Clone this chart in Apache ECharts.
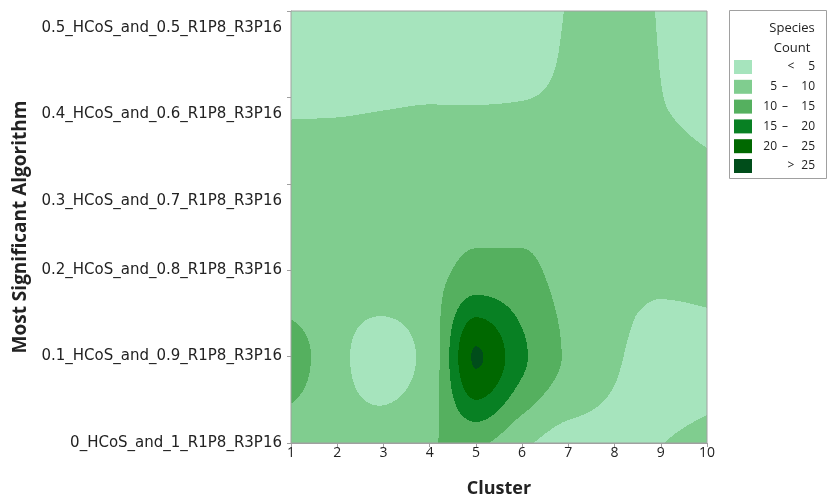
<!DOCTYPE html>
<html><head><meta charset="utf-8">
<script src="https://cdn.jsdelivr.net/npm/echarts@6/dist/echarts.min.js"></script>
<style>html,body{margin:0;padding:0;background:#fff}#c{width:829px;height:499px}</style>
</head><body><div id="c"></div>
<script>
// X: cluster, Y: most significant algorithm (HCoS weight)
const clusters = [1, 2, 3, 4, 5, 6, 7, 8, 9, 10];
const algoValues = [0, 0.1, 0.2, 0.3, 0.4, 0.5];
const algoLabels = [
  '0_HCoS_and_1_R1P8_R3P16',
  '0.1_HCoS_and_0.9_R1P8_R3P16',
  '0.2_HCoS_and_0.8_R1P8_R3P16',
  '0.3_HCoS_and_0.7_R1P8_R3P16',
  '0.4_HCoS_and_0.6_R1P8_R3P16',
  '0.5_HCoS_and_0.5_R1P8_R3P16'
];
// Species count per algorithm row (clusters 1..10), estimated from the contours
const countAlgo00 = [6, 7, 8, 9.8, 10.7, 6, 3, 3.5, 4.9, 6];
const countAlgo01 = [13, 6.5, 2.5, 7, 25.5, 16, 9.3, 5.6, 3, 3.5];
const countAlgo02 = [5.5, 7, 8, 8.6, 11.3, 11, 8.3, 7, 6, 6];
const countAlgo03 = [7.5, 7.5, 7.5, 7.5, 7.5, 7.5, 7.5, 7.5, 7, 6];
const countAlgo04 = [4.2, 4.3, 4.6, 4.8, 4.8, 4.9, 5.6, 7, 5.1, 3.2];
const countAlgo05 = [3, 3, 3, 3, 3, 3, 5.2, 7, 4.7, 3];

const contourLevels = [5, 10, 15, 20, 25];
const bandColors = ['#a6e4bd', '#80cd8f', '#55b05f', '#088023', '#006800', '#004d1a'];
const bandText = [['', '<', '5'], ['5', '–', '10'], ['10', '–', '15'], ['15', '–', '20'], ['20', '–', '25'], ['', '>', '25']];

const grid = [countAlgo00, countAlgo01, countAlgo02, countAlgo03, countAlgo04, countAlgo05];
const NX = clusters.length, NY = algoValues.length;

// monotone (Fritsch-Carlson style) cubic tangents for a uniformly spaced series
function tangents(p) {
  const n = p.length, d = [], m = [];
  for (let k = 0; k < n - 1; k++) d.push(p[k + 1] - p[k]);
  m[0] = d[0]; m[n - 1] = d[n - 2];
  for (let k = 1; k < n - 1; k++) {
    const a = d[k - 1], b = d[k];
    m[k] = (a * b <= 0) ? 0 : 2 * a * b / (a + b);
  }
  return m;
}
function hermite(p1, p2, m1, m2, t) {
  const t2 = t * t, t3 = t2 * t;
  return (2 * t3 - 3 * t2 + 1) * p1 + (t3 - 2 * t2 + t) * m1 + (-2 * t3 + 3 * t2) * p2 + (t3 - t2) * m2;
}
const rowTan = grid.map(tangents);

function surf(i, j, u, v) {
  const col = [];
  for (let r = 0; r < NY; r++) col.push(hermite(grid[r][i], grid[r][i + 1], rowTan[r][i], rowTan[r][i + 1], u));
  const mt = tangents(col);
  return hermite(col[j], col[j + 1], mt[j], mt[j + 1], v);
}
function bandOf(z) {
  let b = 0;
  for (let k = 0; k < contourLevels.length; k++) if (z >= contourLevels[k]) b = k + 1;
  return b;
}

const cells = [];
for (let j = 0; j < NY - 1; j++) for (let i = 0; i < NX - 1; i++) {
  cells.push([clusters[i], algoValues[j], i, j]);
}

function renderItem(params, api) {
  const i = api.value(2), j = api.value(3);
  const p0 = api.coord([clusters[i], algoValues[j]]);
  const p1 = api.coord([clusters[i + 1], algoValues[j + 1]]);
  const x0 = Math.round(p0[0]), x1 = Math.round(p1[0]);
  const yb = Math.round(p0[1]), yt = Math.round(p1[1]);
  const children = [];
  for (let py = yt; py < yb; py++) {
    const v = (yb - (py + 0.5)) / (yb - yt);
    let start = x0, band = -1;
    for (let px = x0; px < x1; px++) {
      const u = (px + 0.5 - x0) / (x1 - x0);
      const b = bandOf(surf(i, j, u, v));
      if (b !== band) {
        if (band >= 0) children.push({ type: 'rect', shape: { x: start, y: py, width: px - start, height: 1 }, style: { fill: bandColors[band] } });
        start = px; band = b;
      }
    }
    children.push({ type: 'rect', shape: { x: start, y: py, width: x1 - start, height: 1 }, style: { fill: bandColors[band] } });
  }
  return { type: 'group', children: children, silent: true };
}

// legend graphics
const legendFont = '12px "Open Sans"';
const legendTitleFont = '13px "Open Sans"';
const legendEls = [
  { type: 'rect', shape: { x: 729.5, y: 10.5, width: 97, height: 168 }, style: { fill: '#fff', stroke: '#a0a0a0', lineWidth: 1 } },
  { type: 'text', x: 792, y: 28, style: { text: 'Species', font: legendTitleFont, fill: '#222', textAlign: 'center', textVerticalAlign: 'middle' } },
  { type: 'text', x: 792, y: 48, style: { text: 'Count', font: legendTitleFont, fill: '#222', textAlign: 'center', textVerticalAlign: 'middle' } }
];
bandColors.forEach((c, k) => {
  const top = 60 + 19.8 * k;
  const cy = top + 7;
  legendEls.push({ type: 'rect', shape: { x: 734, y: top, width: 18, height: 14 }, style: { fill: c } });
  const t = bandText[k];
  if (t[0]) legendEls.push({ type: 'text', x: 777, y: cy, style: { text: t[0], font: legendFont, fill: '#222', textAlign: 'right', textVerticalAlign: 'middle' } });
  legendEls.push({ type: 'text', x: t[0] ? 785 : 791, y: cy, style: { text: t[1], font: legendFont, fill: '#222', textAlign: 'center', textVerticalAlign: 'middle' } });
  legendEls.push({ type: 'text', x: 815, y: cy, style: { text: t[2], font: legendFont, fill: '#222', textAlign: 'right', textVerticalAlign: 'middle' } });
});

const chart = echarts.init(document.getElementById('c'), null, { renderer: 'canvas' });
chart.setOption({
  animation: false,
  backgroundColor: '#fff',
  grid: { left: 291, right: 122, top: 11, bottom: 56, outerBoundsMode: 'none', containLabel: false, show: true, borderColor: '#a0a0a0', borderWidth: 1, backgroundColor: 'transparent', z: 10 },
  xAxis: {
    type: 'value', min: 1, max: 10, interval: 1,
    name: 'Cluster', nameLocation: 'middle', nameGap: 37,
    nameTextStyle: { fontFamily: 'Open Sans', fontWeight: 'bold', fontSize: 18, color: '#222' },
    axisLine: { show: true, lineStyle: { color: '#a0a0a0' } },
    axisTick: { show: true, length: 4, lineStyle: { color: '#a0a0a0' } },
    axisLabel: { margin: 3, fontFamily: 'Open Sans', fontSize: 14, color: '#222' },
    splitLine: { show: false }
  },
  yAxis: {
    type: 'value', min: 0, max: 0.5, interval: 0.1,
    name: 'Most Significant Algorithm', nameLocation: 'middle', nameGap: 258, nameRotate: 90,
    nameTextStyle: { fontFamily: 'Open Sans', fontWeight: 'bold', fontSize: 19, color: '#222' },
    axisLine: { show: true, lineStyle: { color: '#a0a0a0' } },
    axisTick: { show: true, length: 4, lineStyle: { color: '#a0a0a0' } },
    axisLabel: {
      margin: 9, fontFamily: 'DejaVu Sans', fontSize: 15, color: '#222', lineHeight: 17,
      formatter: function (val) {
        const idx = Math.round(val * 10);
        const lab = algoLabels[idx];
        return idx >= 3 ? '\n\n' + lab : lab;
      }
    },
    splitLine: { show: false }
  },
  series: [{
    type: 'custom',
    coordinateSystem: 'cartesian2d',
    renderItem: renderItem,
    encode: { x: 0, y: 1 },
    data: cells,
    z: 1,
    silent: true
  }],
  graphic: legendEls
});
</script>
</body></html>
